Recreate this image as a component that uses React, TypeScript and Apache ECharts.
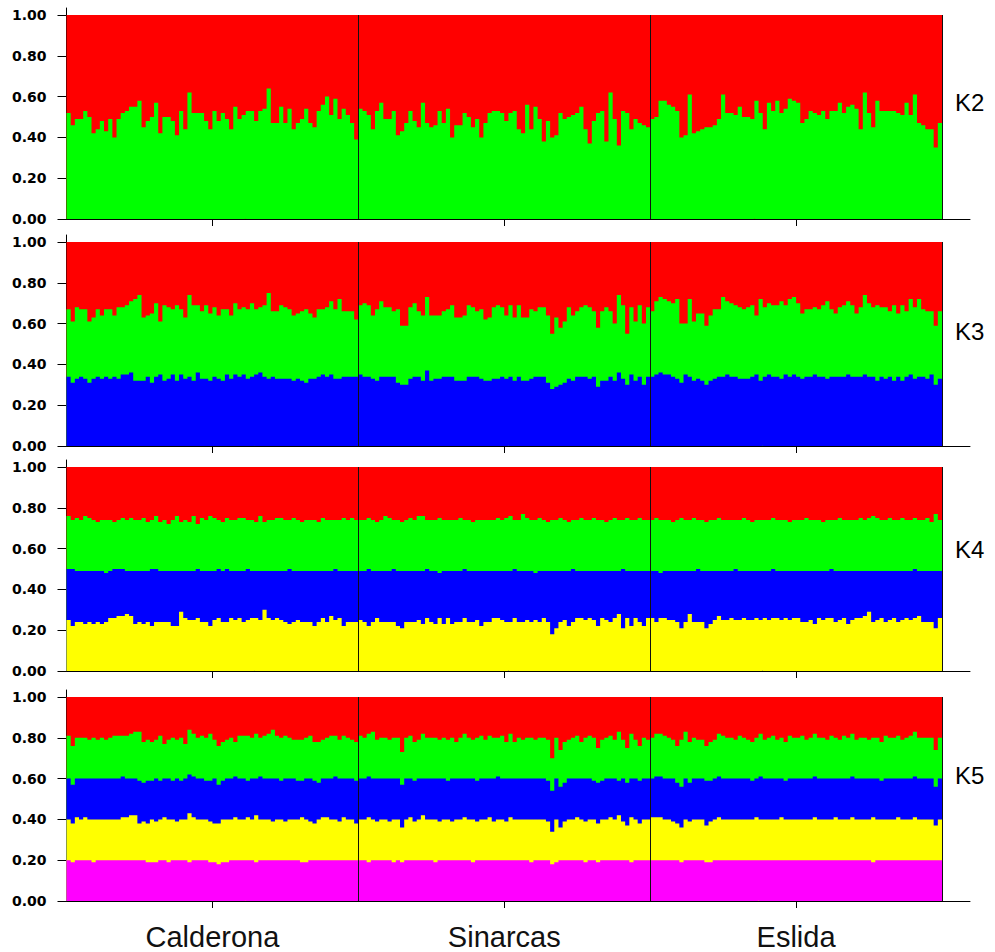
import React, { useEffect, useRef } from "react";
import * as echarts from "echarts";

// ---------- data ----------
const populations = ["Calderona", "Sinarcas", "Eslida"];
const individualsPerPop = 70;
const yTickValues = [0, 0.2, 0.4, 0.6, 0.8, 1.0];
const panelLabels = ["K2", "K3", "K4", "K5"];
// cluster colours, from the top cluster down
const clusterColors = ["#ff0000", "#00ff00", "#0000ff", "#ffff00", "#ff00ff"];

// Upper boundary (in %) of each cluster below red, per individual:
// Calderona (70), Sinarcas (70), Eslida (70)
const k2Green = [
  52,46,49,49,53,50,42,44,48,43, 49,40,49,52,53,55,55,58,45,48, 50,57,42,50,50,48,41,53,44,62,
  52,52,52,48,44,53,48,52,49,44, 55,49,51,53,53,48,53,54,64,47, 47,55,47,54,44,47,49,54,47,45,
  53,56,60,51,59,49,54,51,47,39,
  54,53,51,44,53,57,49,49,53,41, 43,47,53,48,45,57,47,45,46,53, 47,54,40,46,46,52,50,45,49,40,
  47,52,53,53,52,48,52,53,44,42, 56,44,55,49,38,48,40,41,52,49, 50,51,52,55,44,37,48,52,53,38,
  62,49,36,53,52,44,49,47,46,45,
  49,50,58,58,56,55,53,40,41,61, 42,43,44,45,45,46,49,61,52,52, 51,55,50,50,49,58,52,44,57,53,
  58,52,54,59,58,57,47,49,53,52, 51,53,49,53,53,57,52,55,56,54, 44,62,52,45,58,53,53,53,53,52,
  51,57,51,61,47,46,44,44,35,47,
];

const k3Green = [
  67,61,68,67,67,61,63,67,64,67, 67,64,68,68,69,71,72,74,63,64, 65,70,61,69,68,67,69,67,63,74,
  69,69,66,69,65,68,64,67,67,64, 70,67,68,67,70,67,68,69,75,66, 66,69,68,67,64,65,66,67,65,63,
  67,67,68,71,67,72,66,66,66,62,
  69,70,69,64,67,71,68,68,66,67, 59,59,68,70,66,64,73,64,64,64, 66,67,69,63,63,64,69,68,66,67,
  62,63,68,69,68,64,69,63,69,63, 63,67,66,68,68,64,55,63,58,61, 68,64,66,68,69,68,66,58,66,68,
  66,60,74,69,55,68,61,69,60,68,
  66,71,73,72,71,70,72,60,60,72, 61,65,65,59,64,67,67,73,71,70, 69,68,67,68,69,64,72,68,70,69,
  69,71,69,72,73,70,65,67,67,68, 67,69,71,67,65,68,69,71,69,65, 68,74,70,68,69,68,68,66,69,65,
  69,66,72,68,72,67,66,66,59,66,
];
const k3Blue = [
  34,31,33,34,33,31,33,34,33,34, 33,34,33,35,35,36,32,32,32,34, 31,34,35,32,33,35,32,35,33,34,
  32,36,33,33,32,34,33,32,35,33, 35,34,35,33,34,35,36,34,33,34, 33,33,33,33,32,33,32,31,33,33,
  34,35,34,35,33,33,34,34,34,34,
  35,34,34,33,32,34,34,34,34,31, 30,30,33,34,34,32,37,32,33,33, 34,34,34,32,32,32,34,34,34,33,
  32,32,33,33,34,33,34,32,34,32, 32,33,34,34,34,31,28,29,30,31, 33,32,34,34,34,33,34,29,32,32,
  34,32,36,33,30,35,32,34,30,34,
  34,35,36,35,35,34,33,31,35,34, 32,33,32,30,32,33,34,34,35,34, 34,33,33,33,34,35,32,34,35,34,
  34,33,35,34,35,34,33,34,34,35, 34,34,33,34,34,34,34,35,34,34, 34,35,34,34,32,34,33,34,32,34,
  32,34,35,33,34,34,33,35,30,33,
];

const k4Green = [
  76,74,75,74,76,75,74,73,74,74, 74,73,74,75,74,75,74,74,75,73, 74,76,73,74,72,74,76,73,74,73,
  76,72,75,74,76,75,74,73,75,74, 74,75,75,74,74,73,76,73,74,74, 75,75,74,74,75,74,73,74,74,74,
  73,75,74,74,74,74,75,74,75,74,
  74,74,75,74,73,74,76,75,74,74, 73,74,75,74,76,76,74,74,74,75, 74,74,74,74,75,74,74,73,74,74,
  74,74,74,75,74,75,76,74,74,77, 75,74,74,75,74,73,74,74,75,74, 73,74,74,75,74,74,75,74,74,73,
  74,75,74,74,75,74,74,75,74,74,
  74,75,74,74,74,73,74,75,74,74, 75,74,74,73,74,74,75,74,74,74, 74,74,75,74,73,74,74,74,74,75,
  74,74,74,73,74,74,74,75,74,74, 74,73,74,74,74,75,74,74,74,74, 75,74,75,76,75,74,74,75,74,74,
  75,74,74,75,74,74,75,73,77,74,
];
const k4Blue = [
  50,50,49,49,49,49,49,49,49,48, 49,50,50,50,49,49,49,49,49,49, 50,50,49,49,49,49,49,49,49,49,
  49,50,49,49,49,49,50,49,50,49, 49,49,49,50,49,49,49,49,49,49, 49,49,49,50,49,49,49,49,49,49,
  49,49,49,49,50,49,49,49,49,49,
  49,49,50,49,49,49,49,49,50,49, 49,49,49,49,49,49,50,49,49,48, 49,49,49,49,49,50,49,49,49,49,
  49,49,49,49,49,49,49,50,49,49, 49,49,48,49,49,49,49,49,49,49, 49,50,49,49,49,49,49,49,49,49,
  49,49,49,50,49,49,49,49,49,49,
  49,49,48,49,49,49,49,49,49,49, 49,50,49,49,49,49,49,49,49,49, 50,49,49,49,49,49,49,49,49,50,
  49,49,49,49,49,49,49,49,49,49, 49,49,49,50,49,49,49,49,49,49, 49,49,49,49,49,49,49,49,49,49,
  49,49,49,50,49,49,49,49,49,49,
];
const k4Yellow = [
  25,22,24,24,23,24,23,24,23,24, 26,26,27,27,28,27,23,24,23,24, 22,24,24,24,24,22,22,29,26,25,
  25,26,24,24,22,25,26,24,24,26, 25,26,24,25,26,26,25,30,26,25, 26,25,24,23,24,25,24,24,24,22,
  24,26,24,27,25,26,22,24,24,24,
  25,24,22,24,26,24,24,24,24,22, 21,24,24,24,25,23,26,24,23,26, 23,26,23,24,24,26,24,24,25,22,
  24,24,26,26,25,24,24,26,24,24, 25,24,25,24,26,24,18,21,24,25, 22,24,26,26,25,26,25,22,26,25,
  24,26,28,21,26,22,26,24,22,26,
  26,24,26,26,25,25,24,21,24,28, 24,24,24,21,23,25,27,25,25,26, 25,25,26,25,25,26,25,26,25,26,
  26,25,26,25,26,26,24,24,25,23, 26,25,26,26,24,25,26,23,25,26, 26,27,29,24,25,26,24,25,26,24,
  25,26,25,26,27,24,24,24,21,26,
];

const k5Green = [
  81,76,80,80,80,79,80,79,80,79, 80,81,81,81,81,82,83,83,78,79, 78,79,81,77,79,80,79,80,77,84,
  82,80,81,80,82,79,76,78,79,80, 78,81,81,81,80,82,80,81,82,84, 81,80,81,80,79,79,79,80,81,78,
  78,79,80,81,81,79,81,80,79,78,
  81,80,82,83,79,80,80,79,80,80, 73,80,81,78,79,82,80,80,80,79, 80,79,80,78,80,82,80,79,80,81,
  79,81,80,80,81,78,82,78,80,79, 80,80,79,80,80,79,70,80,74,78, 79,80,81,78,80,81,80,75,79,80,
  81,79,83,79,75,82,79,76,80,79,
  80,82,82,81,80,79,76,79,83,78, 80,79,79,76,78,79,82,81,80,80, 79,81,80,79,78,80,82,79,80,81,
  79,80,78,81,80,80,81,79,80,82, 80,80,79,81,80,79,81,80,82,79, 80,80,79,80,80,78,81,80,80,81,
  79,80,81,83,80,80,80,80,74,80,
];
const k5Blue = [
  60,57,60,60,60,60,60,60,60,60, 60,60,60,61,60,60,60,59,58,59, 59,60,59,60,60,59,60,59,60,62,
  61,60,60,59,59,60,57,59,60,60, 61,60,60,59,60,60,61,60,60,60, 60,59,60,60,60,59,59,60,60,59,
  58,60,60,60,61,60,60,60,60,59,
  60,60,61,60,60,60,60,60,60,60, 57,60,60,59,60,60,60,60,60,60, 60,59,60,60,60,60,60,60,59,60,
  60,60,60,61,60,60,60,60,60,60, 60,60,60,60,60,59,54,60,56,58, 60,60,60,60,60,60,59,58,59,60,
  60,60,59,60,58,60,60,59,60,60,
  60,61,61,60,60,60,58,56,60,58, 60,60,60,59,59,60,61,60,60,60, 60,60,60,60,59,60,61,60,60,60,
  60,60,59,60,60,60,60,60,60,61, 60,60,60,60,60,60,60,60,61,60, 60,60,60,60,60,59,60,60,60,60,
  60,60,60,61,60,60,60,60,56,60,
];
const k5Yellow = [
  40,38,41,40,41,40,40,40,40,40, 40,40,40,41,41,42,42,38,39,38, 40,39,40,41,40,40,39,40,40,43,
  41,40,40,40,39,38,38,40,40,40, 41,40,40,41,40,42,40,40,40,39, 40,40,39,40,40,40,41,40,39,38,
  40,41,41,40,40,39,41,40,40,38,
  40,40,41,40,39,40,40,39,40,40, 36,40,41,39,40,42,40,40,40,39, 40,40,39,40,40,41,40,40,39,40,
  40,41,39,40,40,39,41,40,40,40, 40,40,40,40,40,39,34,40,36,39, 40,40,41,40,39,40,40,38,40,40,
  41,40,42,39,37,41,40,38,40,40,
  41,41,41,40,40,39,38,36,40,39, 40,40,40,37,39,40,41,40,40,40, 40,40,40,40,40,41,40,40,40,40,
  40,41,40,40,40,40,40,40,40,41, 40,40,40,40,41,40,40,40,41,40, 40,40,40,41,40,40,40,40,40,41,
  40,40,40,41,40,40,40,40,37,40,
];
const k5Magenta = [
  20,19,20,20,20,20,19,20,20,20, 20,20,20,20,20,20,20,20,20,19, 19,19,20,20,19,20,20,20,20,19,
  20,20,20,20,19,19,18,19,19,20, 20,20,20,20,20,19,20,20,20,20, 20,20,20,20,20,20,19,19,20,20,
  20,20,20,20,20,20,20,20,20,20,
  20,20,19,20,20,20,20,20,19,20, 19,20,20,20,20,20,20,20,19,20, 20,20,20,20,20,20,20,19,20,20,
  20,20,20,20,20,20,20,20,20,20, 20,19,20,20,20,20,18,19,20,20, 20,20,20,20,19,20,20,19,20,20,
  20,20,20,20,20,19,20,20,20,20,
  20,20,20,20,20,20,20,19,20,20, 20,20,20,19,19,20,20,20,20,20, 20,20,20,20,20,20,20,20,20,20,
  20,20,20,20,20,20,20,20,20,20, 20,20,20,20,20,20,20,20,20,20, 20,20,20,19,20,20,20,20,20,20,
  20,20,20,20,20,20,20,20,20,20,
];

const panelTops: number[][][] = [
  [k2Green],
  [k3Green, k3Blue],
  [k4Green, k4Blue, k4Yellow],
  [k5Green, k5Blue, k5Yellow, k5Magenta],
];

// ---------- layout ----------
const W = 995;
const H = 952;
const panelTopPx = [15, 242, 467, 697];
const panelH = 204;
const axisOvershoot = 7; // y axis line runs a little above 1.00
const plotLeft = 66.5;
const barsRight = 942;
const axisRight = 970;
const kLabelY = [102, 331, 549, 775];

export default function App() {
  const ref = useRef<HTMLDivElement>(null);

  useEffect(() => {
    if (!ref.current) return;
    const chart = echarts.init(ref.current, null, { renderer: "svg" });

    const individuals = populations.flatMap((p) =>
      Array.from({ length: individualsPerPop }, (_, i) => `${p} ${i + 1}`)
    );
    const n = individuals.length;
    const barsW = barsRight - plotLeft;
    const axisW = axisRight - plotLeft;
    const axisMax = (n * axisW) / barsW;
    const yMax = (panelH + axisOvershoot) / panelH;
    const boundaries = populations.map((_, i) => (i + 1) * individualsPerPop);
    const centers = populations.map((_, i) => (i + 0.5) * individualsPerPop);
    const totals = individuals.map(() => 100);

    const grid: any[] = [];
    const xAxis: any[] = [];
    const yAxis: any[] = [];
    const series: any[] = [];

    panelTops.forEach((tops, i) => {
      grid.push({
        left: plotLeft,
        top: panelTopPx[i] - axisOvershoot,
        width: barsW,
        height: panelH + axisOvershoot,
      });
      grid.push({ left: plotLeft, top: panelTopPx[i], width: axisW, height: panelH });
      xAxis.push({
        type: "category",
        gridIndex: 2 * i,
        data: individuals,
        show: false,
        boundaryGap: true,
      });
      xAxis.push({
        type: "value",
        gridIndex: 2 * i + 1,
        min: 0,
        max: axisMax,
        splitLine: { show: false },
        axisLine: { show: true, onZero: false, lineStyle: { color: "#000", width: 1 } },
        axisTick: {
          show: true,
          customValues: centers,
          length: 7,
          lineStyle: { color: "#000", width: 1 },
        },
        axisLabel: {
          show: i === panelTops.length - 1,
          customValues: centers,
          formatter: (v: number) => populations[Math.round(v / individualsPerPop - 0.5)] ?? "",
          fontSize: 29,
          fontFamily: "Liberation Sans, Arial, sans-serif",
          color: "#111",
          margin: 21,
        },
      });
      yAxis.push({
        type: "value",
        gridIndex: 2 * i,
        min: 0,
        max: yMax,
        splitLine: { show: false },
        axisLine: { show: true, lineStyle: { color: "#000", width: 1 } },
        axisTick: {
          show: true,
          customValues: yTickValues,
          length: 9,
          lineStyle: { color: "#000", width: 1 },
        },
        axisLabel: {
          customValues: yTickValues,
          formatter: (v: number) => v.toFixed(2),
          fontFamily: "DejaVu Sans, sans-serif",
          fontWeight: "bold",
          fontSize: 14,
          color: "#000",
          margin: 20,
        },
      });
      yAxis.push({ type: "value", gridIndex: 2 * i + 1, min: 0, max: 1, show: false });

      const layers = [totals, ...tops];
      layers.forEach((vals, j) => {
        series.push({
          type: "bar",
          xAxisIndex: 2 * i,
          yAxisIndex: 2 * i,
          data: vals.map((v) => v / 100),
          barGap: "-100%",
          barCategoryGap: "0%",
          large: true,
          largeThreshold: 10,
          silent: true,
          itemStyle: { color: clusterColors[j], borderWidth: 0 },
        });
      });

      series.push({
        type: "scatter",
        xAxisIndex: 2 * i + 1,
        yAxisIndex: 2 * i + 1,
        data: [[0, 0]],
        symbolSize: 0,
        silent: true,
        z: 10,
        markLine: {
          symbol: ["none", "none"],
          silent: true,
          label: { show: false },
          lineStyle: { color: "#111", width: 1, type: "solid" },
          data: boundaries.map((b) => ({ xAxis: b })),
        },
      });
    });

    const graphic = panelLabels.map((label, i) => ({
      type: "text",
      x: 955,
      y: kLabelY[i],
      style: {
        text: label,
        fontSize: 24,
        fontFamily: "Liberation Sans, Arial, sans-serif",
        fill: "#000",
        verticalAlign: "middle",
      },
    }));

    chart.setOption({
      animation: false,
      backgroundColor: "#fff",
      grid,
      xAxis,
      yAxis,
      series,
      graphic,
    });

    return () => chart.dispose();
  }, []);

  return (
    <div
      ref={ref}
      style={{ position: "fixed", left: 0, top: 0, width: W, height: H, background: "#fff" }}
    />
  );
}
